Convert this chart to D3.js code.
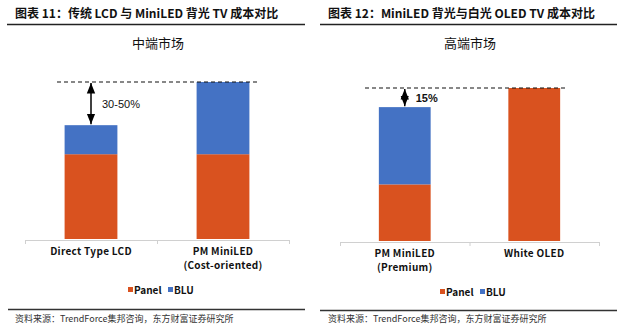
<!DOCTYPE html>
<html><head><meta charset="utf-8">
<script src="https://cdn.jsdelivr.net/npm/d3@7"></script>
<style>
html,body{margin:0;padding:0;background:#fff;}
svg{display:block;}
</style></head>
<body>
<script>
// ---- data ----
const titles = ["图表 11：传统 LCD 与 MiniLED 背光 TV 成本对比", "图表 12：MiniLED 背光与白光 OLED TV 成本对比"];
const subtitles = ["中端市场", "高端市场"];
const categoriesLeft = [["Direct Type LCD"], ["PM MiniLED", "(Cost-oriented)"]];
const categoriesRight = [["PM MiniLED", "(Premium)"], ["White OLED"]];
const panelLeft = [54, 54];
const bluLeft = [18.5, 46];
const panelRight = [37, 100];
const bluRight = [50.5, 0];
const gapLabels = ["30-50%", "15%"];
const seriesNames = ["Panel", "BLU"];
const sourceText = "资料来源：TrendForce集邦咨询，东方财富证券研究所";

const colors = {Panel: "#D9521F", BLU: "#4472C4"};
const W = 640, H = 325;
const svg = d3.select("body").append("svg").attr("width", W).attr("height", H);

const defs = svg.append("defs");
["s","e"].forEach(k=>{
  defs.append("marker").attr("id","arr"+k).attr("viewBox","0 0 10 10")
    .attr("refX", 10).attr("refY",5).attr("markerWidth",7).attr("markerHeight",7)
    .attr("orient", k==="s" ? "auto-start-reverse" : "auto")
    .append("path").attr("d","M0,1 L10,5 L0,9 Z").attr("fill","#000");
});

const panels = [
  {x0: 0, title: titles[0], titleX: 15, lineX: [7, 305], sub: subtitles[0], subX: 158,
   cats: categoriesLeft, panel: panelLeft, blu: bluLeft, axis: [25, 289], base: 239, top: 82, axisY: 240,
   dash: [57, 260], gap: gapLabels[0], legendX: 128, legendY: 290, footY: 309, footX: [8, 305], srcX: 15},
  {x0: 320, title: titles[1], titleX: 328, lineX: [320, 617], sub: subtitles[1], subX: 470,
   cats: categoriesRight, panel: panelRight, blu: bluRight, axis: [340, 599], base: 241, top: 88, axisY: 242,
   dash: [365, 566], gap: gapLabels[1], legendX: 440, legendY: 292, footY: 310, footX: [320, 617], srcX: 328}
];

const cjk = "'Noto Sans CJK SC', 'Noto Sans', sans-serif";

panels.forEach(p => {
  const g = svg.append("g");
  // title
  g.append("text").attr("x", p.titleX).attr("y", 18).text(p.title)
    .attr("font-family", cjk).attr("font-weight", 700).attr("font-size", 12).attr("fill", "#111");
  g.append("line").attr("x1", p.lineX[0]).attr("x2", p.lineX[1]).attr("y1", 24.5).attr("y2", 24.5)
    .attr("stroke", "#222").attr("stroke-width", 1.3);
  // subtitle
  g.append("text").attr("x", p.subX).attr("y", 48).attr("text-anchor", "middle").text(p.sub)
    .attr("font-family", cjk).attr("font-size", 13).attr("fill", "#111");

  const names = p.cats.map(c => c.join(" "));
  const x = d3.scaleBand().domain(names).range(p.axis).paddingInner(0.6).paddingOuter(0.3);
  const y = d3.scaleLinear().domain([0, 100]).range([p.base, p.top]);

  const rows = names.map((n, i) => ({name: n, Panel: p.panel[i], BLU: p.blu[i]}));
  const stacked = d3.stack().keys(seriesNames)(rows);
  stacked.forEach(s => {
    g.append("g").selectAll("rect").data(s).join("rect")
      .attr("x", d => x(d.data.name)).attr("width", x.bandwidth())
      .attr("y", d => y(d[1])).attr("height", d => y(d[0]) - y(d[1]))
      .attr("fill", colors[s.key]);
  });

  // axis line with ticks at band boundaries
  const ax = g.append("g").attr("stroke", "#d0d0d0").attr("stroke-width", 1);
  ax.append("line").attr("x1", p.axis[0]).attr("x2", p.axis[1]).attr("y1", p.axisY + 0.5).attr("y2", p.axisY + 0.5);
  const bounds = [p.axis[0], (p.axis[0] + p.axis[1]) / 2, p.axis[1]];
  bounds.forEach(b => ax.append("line").attr("x1", b + 0.5).attr("x2", b + 0.5).attr("y1", p.axisY).attr("y2", p.axisY + 4));

  // category labels
  p.cats.forEach((lines, i) => {
    const t = g.append("text").attr("text-anchor", "middle")
      .attr("font-family", cjk).attr("font-weight", 700).attr("font-size", 10).attr("fill", "#111")
      .attr("letter-spacing", 0.3);
    lines.forEach((l, j) => t.append("tspan").attr("x", x(names[i]) + x.bandwidth() / 2)
      .attr("y", p.axisY + 15 + j * 14).text(l));
  });

  // dashed reference line at max total
  const maxTotal = d3.max(rows, r => r.Panel + r.BLU);
  g.append("line").attr("x1", p.dash[0]).attr("x2", p.dash[1]).attr("y1", y(maxTotal)).attr("y2", y(maxTotal))
    .attr("stroke", "#111").attr("stroke-width", 1.2).attr("stroke-dasharray", "4,3");

  // double arrow between first bar top and max
  const first = rows[0];
  const cx = x(first.name) + x.bandwidth() / 2;
  g.append("line").attr("x1", cx).attr("x2", cx).attr("y1", y(maxTotal) + 1).attr("y2", y(first.Panel + first.BLU) - 1)
    .attr("stroke", "#000").attr("stroke-width", 1.5)
    .attr("marker-start", "url(#arrs)").attr("marker-end", "url(#arre)");
  g.append("text").attr("x", cx + 11).attr("y", (y(maxTotal) + y(first.Panel + first.BLU)) / 2 + 4)
    .text(p.gap).attr("font-family", "'Liberation Sans', Arial, sans-serif").attr("font-size", 11)
    .attr("font-weight", p.gap === "15%" ? 700 : 400).attr("fill", "#111");

  // legend
  let lx = p.legendX;
  seriesNames.forEach((s, i) => {
    g.append("rect").attr("x", lx).attr("y", p.legendY - 3).attr("width", 5).attr("height", 5).attr("fill", colors[s]);
    g.append("text").attr("x", lx + 6).attr("y", p.legendY + 3.5).text(s)
      .attr("font-family", cjk).attr("font-weight", 700).attr("font-size", 10).attr("fill", "#111");
    lx += i === 0 ? 40 : 0;
  });

  // footer
  g.append("line").attr("x1", p.footX[0]).attr("x2", p.footX[1]).attr("y1", p.footY + 0.5).attr("y2", p.footY + 0.5)
    .attr("stroke", "#333").attr("stroke-width", 1.3);
  g.append("text").attr("x", p.srcX).attr("y", 322).text(sourceText)
    .attr("font-family", cjk).attr("font-size", 9).attr("fill", "#333");
});
</script>
</body></html>
